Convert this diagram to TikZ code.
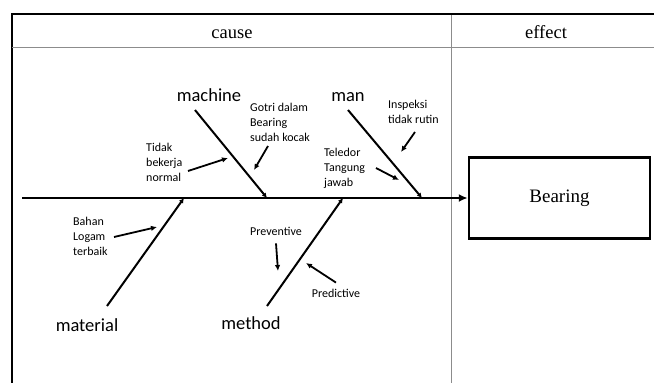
\documentclass[tikz,border=0pt]{standalone}
\usepackage{fontspec}
\setmainfont{Liberation Serif}
\newfontfamily\calibri{Carlito}
\usetikzlibrary{arrows.meta}

\begin{document}
\begin{tikzpicture}[x=1pt,y=-1pt,
    bone/.style={line width=2pt,-{Latex[length=5pt,width=5pt]}},
    cue/.style={line width=1.8pt,-{Latex[length=6pt,width=5.5pt]}},
    cat/.style={font=\calibri\fontsize{18.5}{22}\selectfont,anchor=base,inner sep=0pt},
    note/.style={font=\calibri\fontsize{12}{15}\selectfont,align=left,anchor=north west,inner sep=0pt},
    head/.style={font=\fontsize{18.5}{22}\selectfont,anchor=base,inner sep=0pt}]
        \useasboundingbox (0,0) rectangle (654,383);
        % Table frame
        \draw[line width=2.5pt] (11,14) -- (654,14);
        \draw[line width=2.5pt] (12,13) -- (12,383);
        \draw[black!45,line width=0.8pt] (12,47) -- (654,47);
        \draw[black!45,line width=0.8pt] (451,15) -- (451,383);
        \node[head] (cause) at (232,38) {cause};
        \node[head] (effect) at (546,38) {effect};

        % Effect box and spine
        \node[draw,line width=2.5pt,minimum width=181pt,minimum height=81pt,
            font=\fontsize{19}{22}\selectfont] (bearing) at (559.5,198) {Bearing};
        \coordinate (tail) at (22,198);
        \draw[line width=2.5pt,-{Latex[length=9pt,width=8pt]}] (tail) -- (bearing.west);

        % Main bones
        \node[cat] (machine) at (209,101) {machine};
        \node[cat] (man) at (348,101) {man};
        \node[cat] (material) at (87,331) {material};
        \node[cat] (method) at (251,329) {method};
        \coordinate (mc0) at (195,110); \coordinate (mc1) at (267,198);
        \coordinate (mn0) at (348,110); \coordinate (mn1) at (422,198);
        \coordinate (mt0) at (107,306); \coordinate (mt1) at (184,198);
        \coordinate (md0) at (267,306); \coordinate (md1) at (343,198);
        \draw[bone] (mc0) -- (mc1);
        \draw[bone] (mn0) -- (mn1);
        \draw[bone] (mt0) -- (mt1);
        \draw[bone] (md0) -- (md1);

        % Sub causes
        \node[note] (gotri) at (250,103) {Gotri dalam\\Bearing\\sudah kocak};
        \node[note] (tidak) at (146,143) {Tidak\\bekerja\\normal};
        \node[note] (inspeksi) at (388,100) {Inspeksi\\tidak rutin};
        \node[note] (teledor) at (324,148) {Teledor\\Tangung\\jawab};
        \node[note] (bahan) at (73,217) {Bahan\\Logam\\terbaik};
        \node[note,anchor=center] (prev) at (276,231) {Preventive};
        \node[note,anchor=center] (pred) at (336,293) {Predictive};

        \coordinate (g0) at (268,146); \coordinate (g1) at (254,170);
        \coordinate (k0) at (188,171); \coordinate (k1) at (228,158);
        \coordinate (i0) at (415,132); \coordinate (i1) at (401,152);
        \coordinate (l0) at (376,168); \coordinate (l1) at (399,180);
        \coordinate (b0) at (114,237); \coordinate (b1) at (157,227);
        \coordinate (p1) at (278,271);
        \coordinate (q1) at (306,263);
        \draw[cue] (g0) -- (g1);
        \draw[cue] (k0) -- (k1);
        \draw[cue] (i0) -- (i1);
        \draw[cue] (l0) -- (l1);
        \draw[cue] (b0) -- (b1);
        \draw[cue] ([yshift=-8pt]prev.south) -- (p1);
        \draw[cue] ([yshift=6pt]pred.north) -- (q1);

\end{tikzpicture}
\end{document}
